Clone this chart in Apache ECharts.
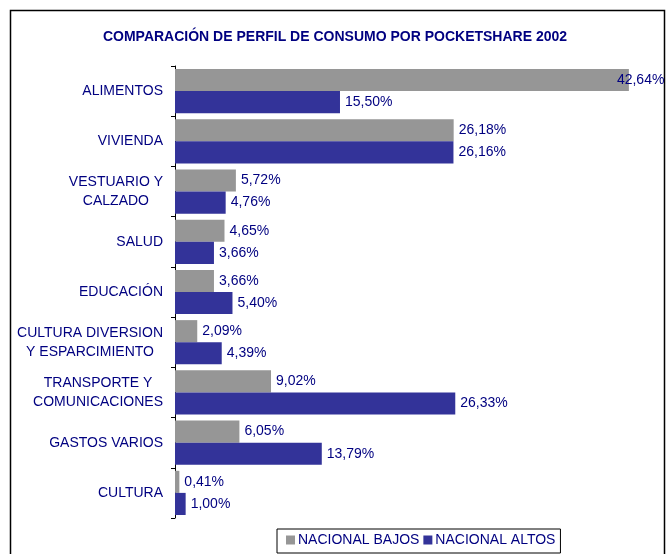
<!DOCTYPE html>
<html>
<head>
<meta charset="utf-8">
<script src="https://cdn.jsdelivr.net/npm/echarts@6/dist/echarts.min.js"></script>
<style>
  html, body { margin: 0; padding: 0; background: #fff; }
  #chart { width: 670px; height: 554px; }
</style>
</head>
<body>
<div id="chart"></div>
<script>
// categories, top to bottom
const categories = [
  'ALIMENTOS',
  'VIVIENDA',
  'VESTUARIO Y\nCALZADO',
  'SALUD',
  'EDUCACIÓN',
  'CULTURA DIVERSION\nY ESPARCIMIENTO',
  'TRANSPORTE Y\nCOMUNICACIONES',
  'GASTOS VARIOS',
  'CULTURA'
]
const seriesNames = ['NACIONAL BAJOS', 'NACIONAL ALTOS']
const bajos = [42.64, 26.18, 5.72, 4.65, 3.66, 2.09, 9.02, 6.05, 0.41]
const altos = [15.50, 26.16, 4.76, 3.66, 5.40, 4.39, 26.33, 13.79, 1.00]

const font = "'Liberation Sans', Arial, sans-serif"
const navy = '#000080'
const barColor = ['#969696', '#333399']

const fmt = (v) => v.toFixed(2).replace('.', ',') + '%'

function makeSeries(name, values, i) {
  const maxV = Math.max(...values)
  return {
    name: name,
    type: 'bar',
    barGap: '0%',
    barCategoryGap: '12%',
    itemStyle: { color: barColor[i] },
    label: {
      show: true,
      position: 'right',
      distance: 5,
      color: navy,
      fontFamily: font,
      fontSize: 14,
      formatter: (p) => fmt(p.value)
    },
    // the biggest value is pulled back inside the frame, as in the original
    data: values.map((v) =>
      v === maxV && v > 40 ? { value: v, label: { offset: [-17, 0] } } : v
    )
  }
}

const chart = echarts.init(document.getElementById('chart'))
chart.setOption({
  animation: false,
  backgroundColor: '#fff',
  title: {
    text: 'COMPARACIÓN DE PERFIL DE CONSUMO POR POCKETSHARE 2002',
    left: 'center',
    top: 25,
    textStyle: {
      color: navy,
      fontFamily: font,
      fontSize: 14,
      fontWeight: 'bold'
    }
  },
  graphic: [
    {
      type: 'rect',
      shape: { x: 10.5, y: 10.5, width: 654, height: 560 },
      style: { fill: 'none', stroke: '#000', lineWidth: 1.5 },
      silent: true,
      z: -1
    }
  ],
  legend: {
    data: seriesNames,
    left: 277,
    top: 529,
    orient: 'horizontal',
    icon: 'rect',
    itemWidth: 9,
    itemHeight: 9,
    itemGap: 4,
    padding: [4, 5, 6, 9],
    borderColor: '#000',
    borderWidth: 1,
    textStyle: { color: navy, fontFamily: font, fontSize: 14, padding: [0, 0, 0, -2] }
  },
  grid: {
    left: 175,
    top: 66,
    right: 16,
    bottom: 36
  },
  xAxis: {
    type: 'value',
    min: 0,
    max: 45,
    show: false
  },
  yAxis: {
    type: 'category',
    inverse: true,
    data: categories,
    axisLine: { show: true, lineStyle: { color: '#000', width: 1 } },
    axisTick: { show: true, length: 4, lineStyle: { color: '#000' } },
    axisLabel: {
      margin: 12,
      color: navy,
      fontFamily: font,
      fontSize: 14,
      lineHeight: 19,
      formatter: (s) =>
        s.indexOf('\n') < 0 ? s : s.split('\n').map((l) => '{c|' + l + '}').join('\n'),
      rich: {
        c: { align: 'center', color: navy, fontFamily: font, fontSize: 14, lineHeight: 19 }
      }
    }
  },
  series: [makeSeries(seriesNames[0], bajos, 0), makeSeries(seriesNames[1], altos, 1)]
})
</script>
</body>
</html>
